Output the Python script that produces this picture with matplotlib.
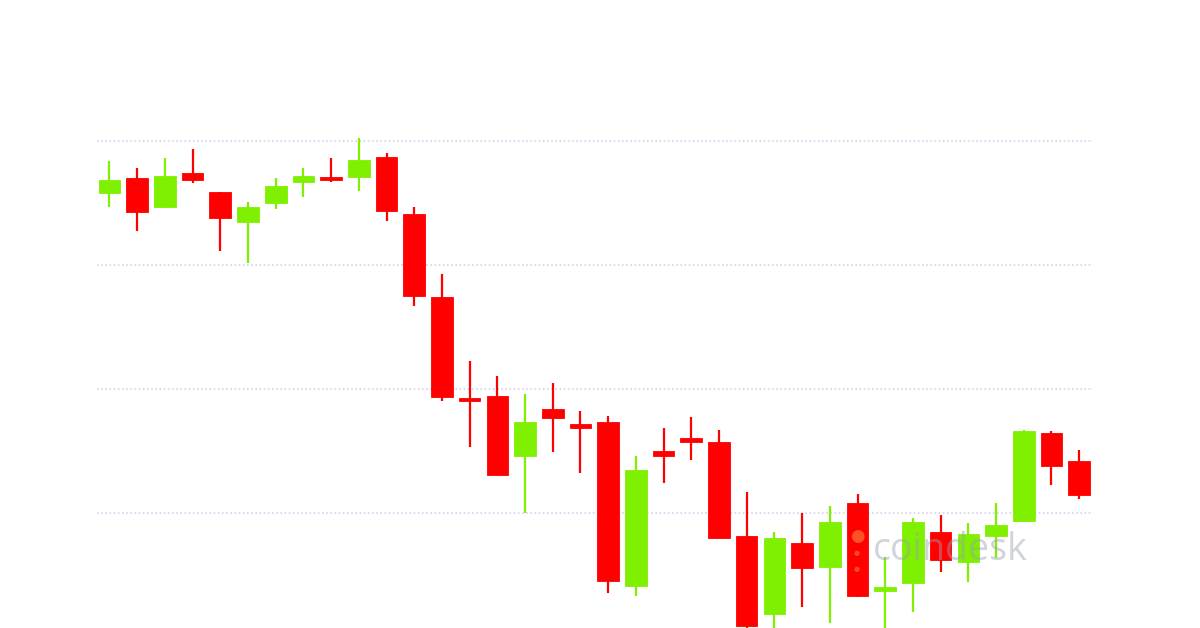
import matplotlib.pyplot as plt
import numpy as np

# OHLC values (price units are arbitrary, grid every 200)
opens = [9516, 9540, 9494, 9548, 9518, 9469, 9500, 9534, 9542, 9542, 9574, 9482,
         9348, 9185, 9189, 9092, 9168, 9144, 9147, 8882, 9100, 9121, 9115, 8963,
         8837, 8952, 8913, 9016, 8874, 8887, 8969, 8921, 8963, 8987, 9129, 9084]
closes = [9537, 9485, 9544, 9537, 9476, 9494, 9527, 9544, 9537, 9569, 9487, 9350,
          9187, 9182, 9061, 9147, 9153, 9137, 8890, 9069, 9092, 9115, 8960, 8818,
          8960, 8911, 8985, 8866, 8881, 8985, 8924, 8966, 8981, 9132, 9076, 9029]
highs = [9568, 9556, 9573, 9587, 9518, 9502, 9540, 9556, 9573, 9605, 9581, 9494,
         9385, 9245, 9221, 9192, 9210, 9165, 9156, 9092, 9137, 9155, 9134, 9034,
         8969, 9000, 9011, 9031, 8929, 8992, 8997, 8984, 9016, 9134, 9132, 9102]
lows = [9494, 9455, 9492, 9532, 9423, 9403, 9490, 9510, 9534, 9519, 9471, 9334,
        9181, 9106, 9061, 9000, 9098, 9065, 8871, 8866, 9048, 9085, 8960, 8805,
        8805, 8848, 8823, 8865, 8805, 8840, 8905, 8889, 8927, 8985, 9045, 9023]
grid_levels = [9000, 9200, 9400, 9600]

UP = "#7ff000"
DOWN = "#ff0000"

fig = plt.figure(figsize=(12, 6.28), dpi=100)
ax = fig.add_axes([97 / 1200, 0, 996 / 1200, 1])

x = np.arange(len(opens))
o = np.array(opens)
c = np.array(closes)
colors = [UP if cc >= oo else DOWN for oo, cc in zip(o, c)]

for lvl in grid_levels:
    ax.axhline(lvl, color="#d2d2ee", lw=1.2, ls=(0, (1, 1.5)), zorder=0)

ax.vlines(x, lows, highs, colors=colors, lw=1.6, zorder=2)
heights = c - o
heights = np.where(np.abs(heights) < 4, np.sign(heights + 0.1) * 4, heights)
ax.bar(x, heights, bottom=o, width=0.78, color=colors, edgecolor=colors,
       lw=0.6, zorder=3)

# watermark
ax.text(0.857, 0.124, "coindesk", transform=ax.transAxes, fontsize=27,
        color="#9aa0b0", alpha=0.45, ha="center", va="center",
        family="Open Sans", zorder=5)
ax.text(0.763, 0.147, "●", transform=ax.transAxes, fontsize=12,
        color="#ff8a3d", alpha=0.6, ha="center", va="center", zorder=5)
for fy in (0.12, 0.094):
    ax.text(0.763, fy, "●", transform=ax.transAxes, fontsize=5,
            color="#ff8a3d", alpha=0.5, ha="center", va="center", zorder=5)

ax.set_xlim(-0.45, len(opens) - 0.5)
ax.set_ylim(8814.5, 9827.4)
ax.axis("off")

fig.savefig("out.png", dpi=100)
